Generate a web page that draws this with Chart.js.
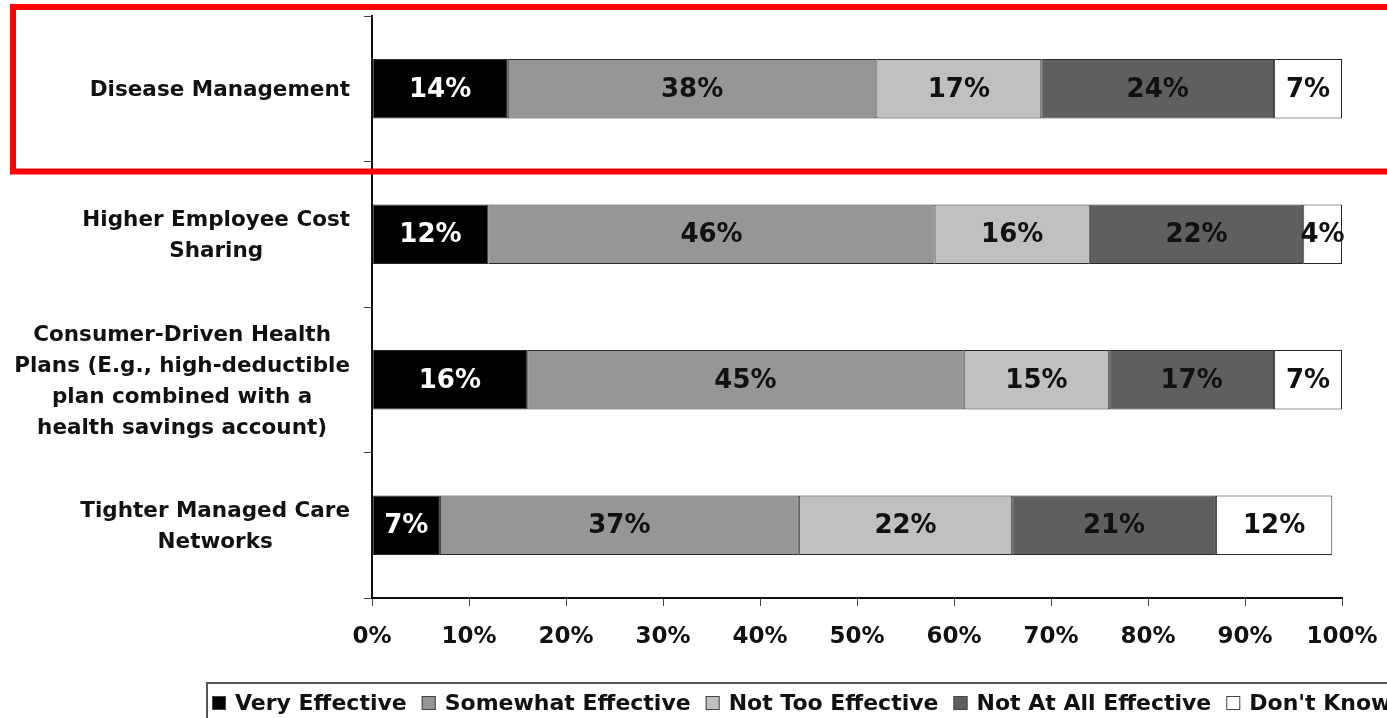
<!DOCTYPE html>
<html>
<head>
<meta charset="utf-8">
<title>Cost containment strategies</title>
<script src="https://cdn.jsdelivr.net/npm/chart.js@4"></script>
<style>
  html, body { margin: 0; padding: 0; background: #fff; }
  #contenedor { width: 1387px; height: 718px; position: relative; }
</style>
</head>
<body>
<div id="contenedor"><canvas id="grafico"></canvas></div>
<script>
// categorías, una línea por elemento
const estrategias = [
  ["Disease Management"],
  ["Higher Employee Cost", "Sharing"],
  ["Consumer-Driven Health", "Plans (E.g., high-deductible", "plan combined with a", "health savings account)"],
  ["Tighter Managed Care", "Networks"],
];

const respuestas = ["Very Effective", "Somewhat Effective", "Not Too Effective", "Not At All Effective", "Don't Know"];

// porcentajes por respuesta
const muyEfectivo = [14, 12, 16, 7];
const algoEfectivo = [38, 46, 45, 37];
const pocoEfectivo = [17, 16, 15, 22];
const nadaEfectivo = [24, 22, 17, 21];
const noSabe = [7, 4, 7, 12];

const ticksX = [0, 10, 20, 30, 40, 50, 60, 70, 80, 90, 100];

const colores = ["#000000", "#969696", "#c0c0c0", "#5f5f5f", "#ffffff"];
const coloresTexto = ["#ffffff", "#111111", "#111111", "#111111", "#111111"];

const FUENTE = "DejaVu Sans";

// valores dentro de cada segmento
const etiquetas = {
  id: "etiquetas",
  afterDatasetsDraw(chart) {
    const ctx = chart.ctx;
    ctx.save();
    ctx.font = "bold 26px '" + FUENTE + "'";
    ctx.textAlign = "center";
    ctx.textBaseline = "middle";
    chart.data.datasets.forEach((ds, i) => {
      chart.getDatasetMeta(i).data.forEach((bar, j) => {
        const p = bar.getProps(["x", "base", "y"], true);
        ctx.fillStyle = coloresTexto[i];
        ctx.fillText(ds.data[j] + "%", (p.x + p.base) / 2, p.y + 1);
      });
    });
    ctx.restore();
  },
};

// rótulos del eje Y, líneas centradas entre sí y bloque alineado a la derecha
const rotulosY = {
  id: "rotulosY",
  afterDraw(chart) {
    const ctx = chart.ctx;
    const escala = chart.scales.y;
    const derecha = chart.chartArea.left - 22;
    const alto = 31;
    ctx.save();
    ctx.font = "bold 21.5px '" + FUENTE + "'";
    ctx.fillStyle = "#111";
    ctx.textAlign = "center";
    ctx.textBaseline = "middle";
    estrategias.forEach((lineas, i) => {
      const ancho = Math.max(...lineas.map((l) => ctx.measureText(l).width));
      const cx = derecha - ancho / 2;
      const yc = escala.getPixelForTick(i) + 2;
      const y0 = yc - ((lineas.length - 1) * alto) / 2;
      lineas.forEach((l, k) => ctx.fillText(l, cx, y0 + k * alto));
    });
    ctx.restore();
  },
};

// leyenda en una sola fila con marco
const leyenda = {
  id: "leyenda",
  afterDraw(chart) {
    const ctx = chart.ctx;
    ctx.save();
    ctx.strokeStyle = "#555";
    ctx.lineWidth = 2;
    ctx.strokeRect(207, 683, chart.width, 60);
    ctx.font = "bold 22px '" + FUENTE + "'";
    ctx.textBaseline = "middle";
    ctx.textAlign = "left";
    let x = 212;
    chart.data.datasets.forEach((ds) => {
      ctx.fillStyle = ds.backgroundColor;
      ctx.fillRect(x, 696, 14, 14);
      ctx.strokeStyle = "#444";
      ctx.lineWidth = 1;
      ctx.strokeRect(x + 0.5, 696.5, 13, 13);
      ctx.fillStyle = "#111";
      ctx.fillText(ds.label, x + 23, 704);
      x += 23 + ctx.measureText(ds.label).width + 15;
    });
    ctx.restore();
  },
};

// recuadro rojo sobre la primera categoría
const recuadro = {
  id: "recuadro",
  afterDraw(chart) {
    const ctx = chart.ctx;
    const escala = chart.scales.y;
    const medio = (escala.getPixelForTick(1) - escala.getPixelForTick(0)) / 2;
    const arriba = escala.getPixelForTick(0) - medio - 9;
    const abajo = escala.getPixelForTick(0) + medio + 10;
    ctx.save();
    ctx.strokeStyle = "#ff0000";
    ctx.lineWidth = 6;
    ctx.strokeRect(13, arriba, chart.width + 20, abajo - arriba);
    ctx.restore();
  },
};

const ctx = document.getElementById("grafico").getContext("2d");
const chart = new Chart(ctx, {
  type: "bar",
  data: {
    labels: estrategias.map((l) => l.join(" ")),
    datasets: [muyEfectivo, algoEfectivo, pocoEfectivo, nadaEfectivo, noSabe].map((valores, i) => ({
      label: respuestas[i],
      data: valores,
      backgroundColor: colores[i],
      borderColor: "#2a2a2a",
      borderWidth: 1,
      borderSkipped: false,
      barPercentage: 0.41,
      categoryPercentage: 1,
    })),
  },
  options: {
    indexAxis: "y",
    responsive: true,
    maintainAspectRatio: false,
    animation: false,
    devicePixelRatio: 1,
    layout: { padding: { top: 16, right: 45, bottom: 60, left: 0 } },
    plugins: {
      legend: { display: false },
      tooltip: { enabled: false },
    },
    scales: {
      x: {
        stacked: true,
        min: 0,
        max: 100,
        afterBuildTicks: (escala) => {
          escala.ticks = ticksX.map((v) => ({ value: v }));
        },
        afterFit: (escala) => {
          escala.height = 60;
          // el "100%" cabe en el margen derecho, no hace falta encoger el área
          escala.paddingLeft = 0;
          escala.paddingRight = 0;
        },
        grid: { drawOnChartArea: false, tickLength: 8, color: "#444" },
        border: { color: "#111", width: 2 },
        ticks: {
          padding: 17,
          color: "#111",
          font: { family: FUENTE, size: 23, weight: "bold" },
          callback: (v) => v + "%",
        },
      },
      y: {
        stacked: true,
        afterFit: (escala) => {
          escala.width = 372;
        },
        grid: { drawOnChartArea: false, offset: true, tickLength: 8, color: "#444" },
        border: { color: "#111", width: 2 },
        ticks: { display: false },
      },
    },
  },
  plugins: [etiquetas, rotulosY, leyenda, recuadro],
});
</script>
</body>
</html>
